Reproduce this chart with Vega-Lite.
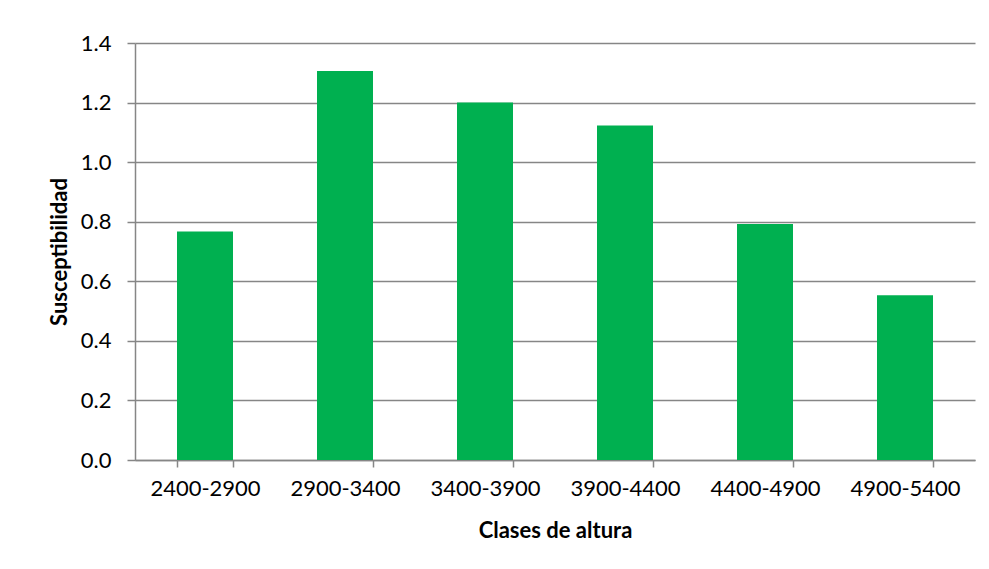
{
  "$schema": "https://vega.github.io/schema/vega-lite/v6.json",
  "autosize": "none",
  "width": 840,
  "height": 417,
  "padding": {"left": 135, "top": 43, "right": 14, "bottom": 109},
  "background": "white",
  "data": {
    "values": [
      {"clase": "2400-2900", "susceptibilidad": 0.767},
      {"clase": "2900-3400", "susceptibilidad": 1.306},
      {"clase": "3400-3900", "susceptibilidad": 1.2},
      {"clase": "3900-4400", "susceptibilidad": 1.123},
      {"clase": "4400-4900", "susceptibilidad": 0.792},
      {"clase": "4900-5400", "susceptibilidad": 0.553}
    ]
  },
  "mark": {"type": "bar", "color": "#00B050"},
  "encoding": {
    "x": {
      "field": "clase",
      "type": "nominal",
      "sort": null,
      "scale": {"paddingInner": 0.6, "paddingOuter": 0.3},
      "axis": {
        "title": "Clases de altura",
        "labelAngle": 0,
        "tickBand": "extent",
        "tickSize": 7,
        "tickColor": "#868686",
        "domainColor": "#868686",
        "labelFont": "Lato",
        "labelFontSize": 22,
        "labelColor": "#000000",
        "labelPadding": 11,
        "titleFont": "Lato",
        "titleFontSize": 22,
        "titleFontWeight": "bold",
        "titleColor": "#000000",
        "titlePadding": 21
      }
    },
    "y": {
      "field": "susceptibilidad",
      "type": "quantitative",
      "scale": {"domain": [0, 1.4]},
      "axis": {
        "title": "Susceptibilidad",
        "values": [0, 0.2, 0.4, 0.6, 0.8, 1.0, 1.2, 1.4],
        "format": ".1f",
        "grid": true,
        "gridColor": "#868686",
        "gridWidth": 1.5,
        "tickSize": 8,
        "tickColor": "#868686",
        "domainColor": "#868686",
        "labelFont": "Lato",
        "labelFontSize": 22,
        "labelColor": "#000000",
        "labelPadding": 16,
        "titleFont": "Lato",
        "titleFontSize": 22,
        "titleFontWeight": "bold",
        "titleColor": "#000000",
        "titlePadding": 9
      }
    }
  },
  "config": {
    "view": {"stroke": null},
    "axis": {"domainWidth": 1.5, "tickWidth": 1.5}
  }
}
